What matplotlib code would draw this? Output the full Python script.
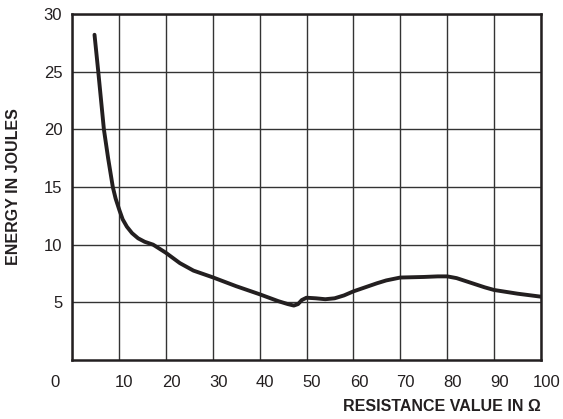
import numpy as np
import matplotlib
matplotlib.use("Agg")
import matplotlib.pyplot as plt
import matplotlib.transforms as mtransforms

plt.rcParams['font.family'] = ['Liberation Sans', 'DejaVu Sans']

# curve
resistance = [4.8, 5.6, 6.2, 6.8, 7.7, 8.7, 9.3, 10.1, 10.8, 11.7, 12.8, 14.1, 15.5,
              17.3, 20, 23, 25.9, 30, 35, 40, 44, 46, 47.3, 48.2, 49, 50, 52, 54,
              56, 58, 60, 65, 67, 70, 75, 78, 80, 82, 85, 88, 90, 95, 100]
energy = [28.2, 25, 22.5, 20, 17.5, 15, 14, 13.0, 12.2, 11.56, 11.0, 10.55, 10.25,
          10.0, 9.3, 8.4, 7.75, 7.17, 6.4, 5.7, 5.1, 4.85, 4.72, 4.85, 5.2, 5.4,
          5.35, 5.27, 5.35, 5.6, 5.95, 6.65, 6.9, 7.15, 7.2, 7.25, 7.25, 7.1, 6.7,
          6.3, 6.07, 5.75, 5.49]

x_ticks = [0, 10, 20, 30, 40, 50, 60, 70, 80, 90, 100]
y_ticks = [5, 10, 15, 20, 25, 30]

txt = '#231f20'

fig = plt.figure(figsize=(5.63, 4.19), dpi=100)
ax = fig.add_axes([72 / 563, 59 / 419, 469 / 563, 346 / 419])

ax.plot(resistance, energy, color='#231f20', linewidth=2.8, solid_capstyle='round',
        solid_joinstyle='round', zorder=3)

ax.set_xlim(0, 100)
ax.set_ylim(0, 30)
ax.set_xticks(x_ticks)
ax.set_yticks(y_ticks)
ax.grid(True, color='#333333', linewidth=1.0)
ax.tick_params(length=0, labelsize=12, labelcolor=txt, pad=7)
ax.tick_params(axis='x', pad=11)

for s in ax.spines.values():
    s.set_linewidth(1.8)
    s.set_color('#231f20')

# labels sit a bit right of the grid lines, the 0 further left
for i, lab in enumerate(ax.get_xticklabels()):
    dx = -12 / 72 if i == 0 else 4 / 72
    lab.set_transform(lab.get_transform() +
                      mtransforms.ScaledTranslation(dx, 0, fig.dpi_scale_trans))

ax.set_xlabel('RESISTANCE VALUE IN Ω', fontsize=11.5, fontweight='bold', color=txt,
              loc='right', labelpad=6)
ax.set_ylabel('ENERGY IN JOULES', fontsize=11.5, fontweight='bold', color=txt,
              labelpad=16)

fig.savefig('out.png', dpi=100)
